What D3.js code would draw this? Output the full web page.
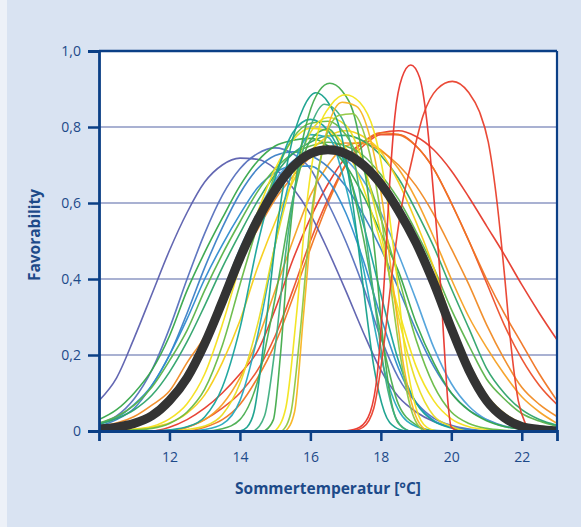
<!DOCTYPE html>
<html>
<head>
<meta charset="utf-8">
<script src="https://cdn.jsdelivr.net/npm/d3@7"></script>
<style>
  body { margin: 0; background: #edf1f8; }
  svg { display: block; }
  .tick text { font-family: "Open Sans", "Noto Sans", sans-serif; font-size: 14px; fill: #1d4a89; }
  .axisTitle { font-family: "Open Sans", "Noto Sans", sans-serif; font-size: 15.5px; font-weight: bold; fill: #1d4a89; }
</style>
</head>
<body>
<div class="chart"></div>
<script>
// Temperature grid (°C) used by the broad curves
var grid = [10, 10.5, 11, 11.5, 12, 12.5, 13, 13.5, 14, 14.5, 15, 15.5, 16, 16.5, 17, 17.5, 18, 18.5, 19, 19.5, 20, 20.5, 21, 21.5, 22, 22.5, 23];

var yTicks = [0, 0.2, 0.4, 0.6, 0.8, 1.0];
var xTicks = [12, 14, 16, 18, 20, 22];

// broad curves, one value per grid point
var purple1 = [0.08,0.14,0.245,0.36,0.475,0.575,0.655,0.70,0.718,0.715,0.69,0.64,0.57,0.475,0.37,0.26,0.16,0.09,0.05,0.025,0.01,0.004,0,0,0,0,0];
var purple2 = [0.02,0.04,0.085,0.16,0.27,0.40,0.52,0.62,0.69,0.73,0.745,0.73,0.69,0.60,0.50,0.38,0.245,0.14,0.075,0.034,0.015,0.005,0,0,0,0,0];
var blue1 = [0.013,0.03,0.06,0.12,0.2,0.31,0.43,0.535,0.625,0.69,0.725,0.735,0.725,0.695,0.645,0.57,0.48,0.375,0.265,0.17,0.10,0.055,0.03,0.013,0.006,0.002,0];
var blue2 = [0.02,0.035,0.07,0.12,0.20,0.295,0.40,0.49,0.57,0.64,0.68,0.697,0.697,0.66,0.575,0.45,0.30,0.165,0.075,0.028,0.01,0.003,0,0,0,0,0];
var blue3 = [0.004,0.009,0.019,0.037,0.08,0.14,0.245,0.36,0.48,0.575,0.66,0.71,0.735,0.737,0.715,0.66,0.575,0.465,0.345,0.22,0.125,0.065,0.03,0.012,0.005,0.001,0];
var green1 = [0.03,0.056,0.10,0.16,0.25,0.37,0.47,0.56,0.645,0.71,0.75,0.765,0.77,0.75,0.70,0.62,0.52,0.42,0.285,0.18,0.10,0.054,0.027,0.012,0.005,0.002,0];
var green2 = [0.021,0.038,0.068,0.115,0.185,0.265,0.37,0.465,0.55,0.63,0.69,0.73,0.75,0.76,0.75,0.725,0.675,0.61,0.525,0.43,0.32,0.225,0.137,0.085,0.046,0.026,0.012];
var green3 = [0.017,0.033,0.056,0.094,0.155,0.235,0.33,0.43,0.52,0.605,0.675,0.73,0.76,0.777,0.778,0.763,0.725,0.665,0.58,0.485,0.375,0.27,0.165,0.10,0.056,0.03,0.015];
var green4 = [0,0,0.003,0.007,0.02,0.05,0.11,0.225,0.385,0.54,0.675,0.77,0.81,0.815,0.78,0.69,0.56,0.405,0.24,0.12,0.05,0.02,0.007,0.002,0,0,0];
var greenSteep = [0,0,0,0,0,0,0,0.006,0.03,0.13,0.35,0.61,0.765,0.795,0.71,0.51,0.255,0.07,0.016,0,0,0,0,0,0,0,0];
var teal2 = [0,0,0,0,0.003,0.011,0.037,0.115,0.27,0.49,0.665,0.785,0.82,0.79,0.70,0.545,0.36,0.185,0.074,0.026,0.008,0,0,0,0,0,0];
var teal3 = [0,0,0,0,0,0,0.004,0.018,0.08,0.25,0.49,0.69,0.78,0.773,0.645,0.43,0.195,0.055,0.012,0.002,0,0,0,0,0,0,0];
var yellow1 = [0,0.002,0.005,0.012,0.032,0.072,0.15,0.28,0.435,0.575,0.69,0.765,0.797,0.79,0.745,0.64,0.495,0.32,0.17,0.08,0.032,0.011,0.004,0,0,0,0];
var yellow2 = [0.001,0.002,0.004,0.01,0.021,0.047,0.095,0.18,0.29,0.43,0.55,0.655,0.735,0.775,0.79,0.775,0.735,0.655,0.55,0.43,0.29,0.18,0.095,0.047,0.021,0.01,0.004];
var yellow4 = [0,0,0,0,0,0.004,0.013,0.043,0.125,0.28,0.49,0.665,0.785,0.825,0.805,0.705,0.52,0.30,0.13,0.04,0.012,0,0,0,0,0,0];
var orange2 = [0.011,0.021,0.038,0.068,0.105,0.18,0.25,0.355,0.45,0.53,0.61,0.67,0.72,0.745,0.758,0.756,0.737,0.70,0.645,0.57,0.48,0.385,0.28,0.19,0.115,0.07,0.038];
var orangeWide1 = [0,0,0,0,0,0,0.01,0.03,0.07,0.14,0.23,0.35,0.48,0.6,0.7,0.76,0.785,0.78,0.75,0.69,0.6,0.5,0.4,0.31,0.23,0.15,0.08];
var orangeWide3 = [0,0,0,0,0,0.01,0.03,0.07,0.14,0.24,0.37,0.5,0.62,0.7,0.75,0.76,0.74,0.69,0.61,0.51,0.4,0.3,0.22,0.15,0.09,0.05,0.02];
var redWide1 = [0,0,0,0,0.01,0.03,0.06,0.1,0.15,0.21,0.32,0.45,0.56,0.65,0.72,0.76,0.785,0.79,0.775,0.74,0.685,0.615,0.54,0.465,0.385,0.31,0.24];
var redWide2 = [0,0,0,0,0,0.01,0.03,0.06,0.1,0.16,0.25,0.37,0.5,0.61,0.7,0.75,0.78,0.78,0.75,0.69,0.6,0.5,0.39,0.28,0.19,0.12,0.07];
var meanCurve = [0.005,0.01,0.02,0.04,0.08,0.14,0.23,0.34,0.455,0.555,0.635,0.695,0.73,0.74,0.73,0.70,0.65,0.58,0.495,0.39,0.27,0.16,0.08,0.035,0.012,0.004,0];

// narrow curves, [temperature, favorability] pairs
var teal1 = [[14,0],[14.2,0.01],[14.4,0.05],[14.7,0.25],[15.05,0.53],[15.4,0.73],[15.8,0.85],[16.15,0.89],[16.5,0.865],[16.9,0.77],[17.2,0.6],[17.5,0.38],[17.8,0.17],[18.1,0.05],[18.4,0.01],[18.7,0]];
var green5 = [[14.7,0],[14.95,0.03],[15.15,0.2],[15.4,0.5],[15.65,0.7],[15.95,0.83],[16.25,0.895],[16.55,0.915],[16.9,0.895],[17.3,0.81],[17.6,0.65],[17.85,0.45],[18.05,0.25],[18.25,0.1],[18.5,0.02],[18.8,0]];
var green6 = [[14.4,0],[14.7,0.04],[15,0.22],[15.3,0.47],[15.6,0.66],[16,0.8],[16.4,0.86],[16.85,0.83],[17.25,0.71],[17.55,0.53],[17.85,0.32],[18.15,0.13],[18.45,0.03],[18.8,0]];
var yellow3 = [[15,0],[15.3,0.06],[15.6,0.3],[15.9,0.6],[16.2,0.78],[16.6,0.86],[17,0.885],[17.4,0.865],[17.8,0.79],[18.1,0.66],[18.4,0.45],[18.7,0.2],[19,0.06],[19.3,0.01],[19.6,0]];
var orange4 = [[15.3,0],[15.55,0.05],[15.8,0.3],[16.1,0.6],[16.5,0.8],[16.9,0.865],[17.3,0.855],[17.7,0.77],[18.05,0.6],[18.35,0.38],[18.65,0.17],[18.95,0.05],[19.3,0]];
var lime = [[15.2,0],[15.45,0.05],[15.7,0.25],[16,0.55],[16.35,0.74],[16.8,0.83],[17.2,0.835],[17.6,0.76],[17.95,0.6],[18.25,0.4],[18.55,0.2],[18.85,0.06],[19.2,0]];
var redNarrow1 = [[17,0],[17.4,0.01],[17.7,0.05],[17.9,0.15],[18.1,0.4],[18.25,0.65],[18.4,0.83],[18.6,0.93],[18.85,0.963],[19.1,0.93],[19.3,0.82],[19.5,0.62],[19.65,0.45],[19.8,0.22],[19.9,0.08],[20,0.01],[20.2,0]];
var redNarrow2 = [[17.2,0],[17.5,0.01],[17.8,0.06],[18.05,0.2],[18.3,0.4],[18.55,0.57],[18.85,0.7],[19.2,0.83],[19.6,0.9],[20.03,0.92],[20.5,0.89],[20.8,0.84],[21.05,0.76],[21.3,0.6],[21.5,0.42],[21.7,0.22],[21.9,0.08],[22.1,0.02],[22.3,0]];

function onGrid(vals) {
    return vals.map(function(v, i) { return [grid[i], v]; });
}

var curves = [
    { data: onGrid(redWide1), color: "#e63a2b" },
    { data: onGrid(redWide2), color: "#ec4f2a" },
    { data: onGrid(orangeWide1), color: "#f07422" },
    { data: onGrid(orangeWide3), color: "#f5a023" },
    { data: onGrid(orange2), color: "#f08a23" },
    { data: onGrid(purple1), color: "#5b5fae" },
    { data: onGrid(purple2), color: "#5670bd" },
    { data: onGrid(blue1), color: "#3b80c6" },
    { data: onGrid(blue2), color: "#2f8ccf" },
    { data: onGrid(blue3), color: "#4da0da" },
    { data: onGrid(green1), color: "#36a64a" },
    { data: onGrid(green2), color: "#5ab349" },
    { data: onGrid(green3), color: "#2ea36a" },
    { data: onGrid(yellow2), color: "#f6cd17" },
    { data: onGrid(yellow1), color: "#f4e01b" },
    { data: onGrid(green4), color: "#67bb45" },
    { data: onGrid(teal2), color: "#17a39b" },
    { data: onGrid(teal3), color: "#25a8bf" },
    { data: onGrid(greenSteep), color: "#4aae50" },
    { data: onGrid(yellow4), color: "#e9dc20" },
    { data: teal1, color: "#15a08c" },
    { data: green5, color: "#42ab4b" },
    { data: green6, color: "#3eae80" },
    { data: yellow3, color: "#f2e41b" },
    { data: orange4, color: "#f8b420" },
    { data: lime, color: "#90c740" },
    { data: redNarrow1, color: "#e8352b" },
    { data: redNarrow2, color: "#e9402c" }
];

var svgWidth = 581;
var svgHeight = 527;
var margin = { top: 51, right: 24, bottom: 96, left: 99 };
var width = svgWidth - margin.left - margin.right;
var height = svgHeight - margin.top - margin.bottom;

var svg = d3.select(".chart")
    .append("svg")
    .attr("width", svgWidth)
    .attr("height", svgHeight);

// light blue panel
svg.append("rect")
    .attr("x", 7).attr("y", 0)
    .attr("width", svgWidth - 7).attr("height", svgHeight)
    .attr("fill", "#d9e3f2");

var chart = svg.append("g")
    .attr("transform", "translate(" + margin.left + "," + margin.top + ")");

var xScale = d3.scaleLinear().domain([10, 23]).range([0, width]);
var yScale = d3.scaleLinear().domain([0, 1]).range([height, 0]);

chart.append("rect")
    .attr("width", width).attr("height", height)
    .attr("fill", "#ffffff");

// grid lines
chart.selectAll(".grid")
    .data(yTicks.filter(function(d) { return d > 0 && d < 1; }))
    .enter()
    .append("line")
    .attr("x1", 0).attr("x2", width)
    .attr("y1", function(d) { return yScale(d); })
    .attr("y2", function(d) { return yScale(d); })
    .attr("stroke", "#a9b1d2")
    .attr("stroke-width", 2.2);

chart.append("clipPath").attr("id", "plotClip")
    .append("rect").attr("width", width).attr("height", height);

var line = d3.line()
    .x(function(d) { return xScale(d[0]); })
    .y(function(d) { return yScale(d[1]); })
    .curve(d3.curveMonotoneX);

var lines = chart.append("g").attr("clip-path", "url(#plotClip)");

lines.selectAll(".curve")
    .data(curves)
    .enter()
    .append("path")
    .attr("d", function(d) { return line(d.data); })
    .attr("fill", "none")
    .attr("stroke", function(d) { return d.color; })
    .attr("stroke-width", 1.6)
    .attr("stroke-opacity", 0.95);

// mean curve on top
lines.append("path")
    .attr("d", line(onGrid(meanCurve)))
    .attr("fill", "none")
    .attr("stroke", "#333333")
    .attr("stroke-width", 9)
    .attr("stroke-linecap", "round");

// frame (top and right)
chart.append("line")
    .attr("x1", 0).attr("x2", width).attr("y1", 0).attr("y2", 0)
    .attr("stroke", "#0b3f86").attr("stroke-width", 2.5);
chart.append("line")
    .attr("x1", width).attr("x2", width).attr("y1", 0).attr("y2", height)
    .attr("stroke", "#0b3f86").attr("stroke-width", 2.2);

var leftAxis = d3.axisLeft(yScale)
    .tickValues(yTicks)
    .tickSize(11)
    .tickPadding(7)
    .tickFormat(function(d) { return d === 0 ? "0" : d3.format(".1f")(d).replace(".", ","); });

var bottomAxis = d3.axisBottom(xScale)
    .tickValues(xTicks)
    .tickSize(10)
    .tickPadding(11)
    .tickFormat(d3.format("d"));

var gy = chart.append("g").call(leftAxis);
var gx = chart.append("g").attr("transform", "translate(0," + height + ")").call(bottomAxis);

[gx, gy].forEach(function(g) {
    g.select(".domain").attr("stroke", "#0b3f86").attr("stroke-width", 2.8);
    g.selectAll(".tick line").attr("stroke", "#0b3f86").attr("stroke-width", 2.5);
});

// axis titles
chart.append("text")
    .attr("class", "axisTitle")
    .attr("transform", "rotate(-90)")
    .attr("x", -(height / 2) + 6)
    .attr("y", -59)
    .attr("text-anchor", "middle")
    .text("Favorability");

chart.append("text")
    .attr("class", "axisTitle")
    .attr("x", width / 2)
    .attr("y", height + 63)
    .attr("text-anchor", "middle")
    .text("Sommertemperatur [°C]");
</script>
</body>
</html>
